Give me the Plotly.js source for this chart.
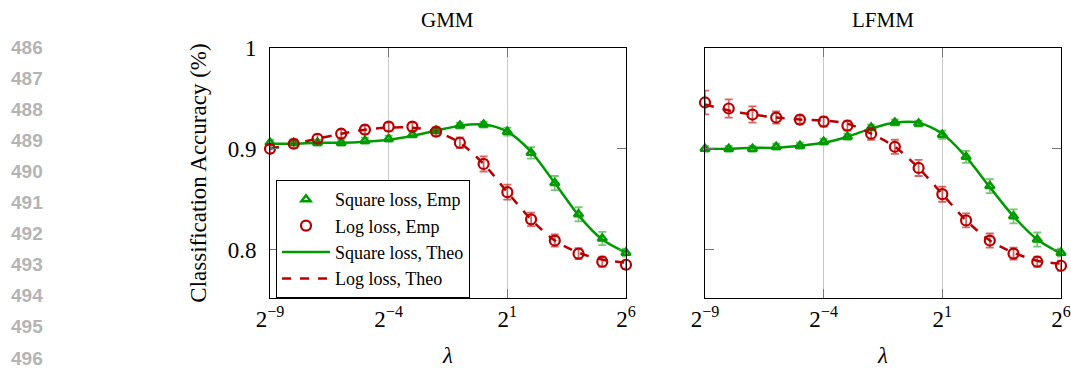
<!DOCTYPE html>
<html>
<head>
<meta charset="utf-8">
<script src="https://cdn.plot.ly/plotly-3.0.1.min.js"></script>
<style>html,body{margin:0;padding:0;background:#fff;}</style>
</head>
<body>
<div id="chart" style="width:1071px;height:371px;"></div>
<script>
// lambda = 2^-9 ... 2^6
const exponents = [-9,-8,-7,-6,-5,-4,-3,-2,-1,0,1,2,3,4,5,6];
const lambdas = exponents.map(e => Math.pow(2, e));

// GMM
const gmmSquareEmp = [0.906,0.906,0.906,0.906,0.908,0.910,0.914,0.918,0.923,0.924,0.917,0.896,0.866,0.835,0.811,0.797];
const gmmSquareErr = [0.003,0.003,0.003,0.003,0.003,0.003,0.003,0.003,0.003,0.003,0.004,0.0057,0.007,0.007,0.0065,0.004];
const gmmLogEmp    = [0.900,0.905,0.910,0.915,0.919,0.922,0.922,0.917,0.906,0.885,0.857,0.830,0.809,0.796,0.788,0.785];
const gmmLogErr    = [0.004,0.004,0.004,0.004,0.004,0.004,0.004,0.004,0.0053,0.0075,0.0075,0.0067,0.006,0.0055,0.005,0.004];
const gmmSquareTheo = [0.905,0.905,0.906,0.906,0.907,0.909,0.913,0.918,0.923,0.924,0.917,0.897,0.866,0.834,0.810,0.797];
const gmmLogTheo    = [0.900,0.905,0.910,0.915,0.919,0.921,0.921,0.917,0.906,0.885,0.857,0.830,0.809,0.797,0.790,0.787];

// LFMM
const lfmmSquareEmp = [0.900,0.900,0.900,0.902,0.903,0.907,0.912,0.921,0.926,0.925,0.914,0.892,0.863,0.833,0.810,0.797];
const lfmmSquareErr = [0.003,0.003,0.003,0.003,0.003,0.003,0.003,0.003,0.003,0.003,0.004,0.006,0.007,0.007,0.007,0.004];
const lfmmLogEmp    = [0.946,0.940,0.934,0.931,0.929,0.927,0.923,0.915,0.902,0.881,0.855,0.829,0.809,0.796,0.788,0.784];
const lfmmLogErr    = [0.0118,0.009,0.008,0.006,0.004,0.005,0.005,0.006,0.007,0.008,0.0075,0.007,0.007,0.006,0.005,0.005];
const lfmmSquareTheo = [0.900,0.900,0.901,0.901,0.903,0.906,0.912,0.920,0.926,0.926,0.915,0.892,0.862,0.833,0.810,0.796];
const lfmmLogTheo    = [0.944,0.938,0.934,0.931,0.929,0.928,0.925,0.915,0.902,0.881,0.855,0.829,0.809,0.797,0.789,0.786];

const xTickVals = [Math.pow(2,-9), Math.pow(2,-4), Math.pow(2,1), Math.pow(2,6)];
const xTickText = ['2<sup>−9</sup>','2<sup>−4</sup>','2<sup>1</sup>','2<sup>6</sup>'];
const yTickVals = [0.8, 0.9, 1.0];
const yTickText = ['0.8','0.9','1'];
const lineNumbers = [486,487,488,489,490,491,492,493,494,495,496];

const GREEN = 'rgb(0,155,0)';
const GREEN_ERR = 'rgba(0,155,0,0.55)';
const RED = 'rgb(185,0,0)';
const RED_ERR = 'rgba(185,0,0,0.6)';
const SERIF = '"Liberation Serif", "DejaVu Serif", serif';

function sets(xa, ya, sqEmp, sqErr, lgEmp, lgErr, sqTheo, lgTheo, show) {
  return [
    {x: lambdas, y: sqTheo, xaxis: xa, yaxis: ya, mode: 'lines', type: 'scatter',
     name: 'Square loss, Theo', legendgroup: 'c', legendrank: 3, showlegend: show,
     line: {color: GREEN, width: 2.5, shape: 'spline', smoothing: 0.8}, cliponaxis: false},
    {x: lambdas, y: lgTheo, xaxis: xa, yaxis: ya, mode: 'lines', type: 'scatter',
     name: 'Log loss, Theo', legendgroup: 'd', legendrank: 4, showlegend: show,
     line: {color: RED, width: 2.5, dash: '9px,9px', shape: 'spline', smoothing: 0.8}, cliponaxis: false},
    {x: lambdas, y: sqEmp, xaxis: xa, yaxis: ya, mode: 'markers', type: 'scatter',
     name: 'Square loss, Emp', legendgroup: 'a', legendrank: 1, showlegend: show,
     marker: {symbol: 'triangle-up-open', size: 8, color: GREEN, line: {color: GREEN, width: 2.5}},
     error_y: {type: 'data', array: sqErr, visible: true, color: GREEN_ERR, thickness: 1.8, width: 4},
     cliponaxis: false},
    {x: lambdas, y: lgEmp, xaxis: xa, yaxis: ya, mode: 'markers', type: 'scatter',
     name: 'Log loss, Emp', legendgroup: 'b', legendrank: 2, showlegend: show,
     marker: {symbol: 'circle-open', size: 10, color: RED, line: {color: RED, width: 2.2}},
     error_y: {type: 'data', array: lgErr, visible: true, color: RED_ERR, thickness: 1.8, width: 4},
     cliponaxis: false}
  ];
}

const data = [].concat(
  sets('x', 'y', gmmSquareEmp, gmmSquareErr, gmmLogEmp, gmmLogErr, gmmSquareTheo, gmmLogTheo, true),
  sets('x2', 'y2', lfmmSquareEmp, lfmmSquareErr, lfmmLogEmp, lfmmLogErr, lfmmSquareTheo, lfmmLogTheo, false)
);

const xBase = {
  type: 'log',
  range: [-9 * Math.log10(2), 6 * Math.log10(2)],
  tickvals: xTickVals, ticktext: xTickText,
  tickfont: {family: SERIF, size: 23, color: '#000'},
  ticklabeloverflow: 'allow',
  showgrid: true, gridcolor: '#c8c8c8', gridwidth: 1,
  showline: true, linecolor: '#000', linewidth: 1, mirror: 'ticks',
  ticks: 'inside', ticklen: 9, tickcolor: '#777', tickwidth: 1,
  zeroline: false,
  title: {text: '<i>λ</i>', font: {family: SERIF, size: 23, color: '#000'}, standoff: 16}
};
const yBase = {
  range: [0.752, 1.0],
  tickvals: yTickVals, ticktext: yTickText,
  tickfont: {family: SERIF, size: 23, color: '#000'},
  showgrid: false,
  showline: true, linecolor: '#000', linewidth: 1, mirror: 'ticks',
  ticks: 'inside', ticklen: 9, tickcolor: '#777', tickwidth: 1,
  zeroline: false
};

const annotations = [
  {text: 'GMM', x: 0.225, y: 1.0, xref: 'paper', yref: 'paper', xanchor: 'center', yanchor: 'bottom',
   yshift: 14, showarrow: false, font: {family: SERIF, size: 21, color: '#000'}},
  {text: 'LFMM', x: 0.775, y: 1.0, xref: 'paper', yref: 'paper', xanchor: 'center', yanchor: 'bottom',
   yshift: 14, showarrow: false, font: {family: SERIF, size: 21, color: '#000'}}
];
lineNumbers.forEach((n, i) => {
  const py = 47 + i * 31.1; // pixel row in figure
  annotations.push({
    text: '<b>' + n + '</b>', xref: 'paper', yref: 'paper',
    x: (27 - 270) / 791, y: (298 - py) / 250,
    xanchor: 'center', yanchor: 'middle', showarrow: false,
    font: {family: '"Liberation Sans", Arial, sans-serif', size: 19, color: '#b4b4b4'}
  });
});

const layout = {
  width: 1071, height: 371,
  margin: {l: 270, r: 10, t: 48, b: 73},
  paper_bgcolor: '#fff', plot_bgcolor: '#fff',
  showlegend: true,
  legend: {
    x: 6 / 791, y: 118 / 250, xanchor: 'left', yanchor: 'top',
    bgcolor: '#fff', bordercolor: '#000', borderwidth: 1,
    font: {family: SERIF, size: 18, color: '#000'},
    traceorder: 'grouped', tracegroupgap: 0, itemwidth: 48
  },
  xaxis: Object.assign({}, xBase, {domain: [0, 356 / 791], anchor: 'y'}),
  xaxis2: Object.assign({}, xBase, {domain: [435 / 791, 1], anchor: 'y2'}),
  yaxis: Object.assign({}, yBase, {anchor: 'x', ticklabelstandoff: 8,
    title: {text: 'Classification Accuracy (%)', font: {family: SERIF, size: 23, color: '#000'}, standoff: 14}}),
  yaxis2: Object.assign({}, yBase, {anchor: 'x2', showticklabels: false}),
  annotations: annotations
};

Plotly.newPlot('chart', data, layout, {staticPlot: true, displayModeBar: false});
</script>
</body>
</html>
